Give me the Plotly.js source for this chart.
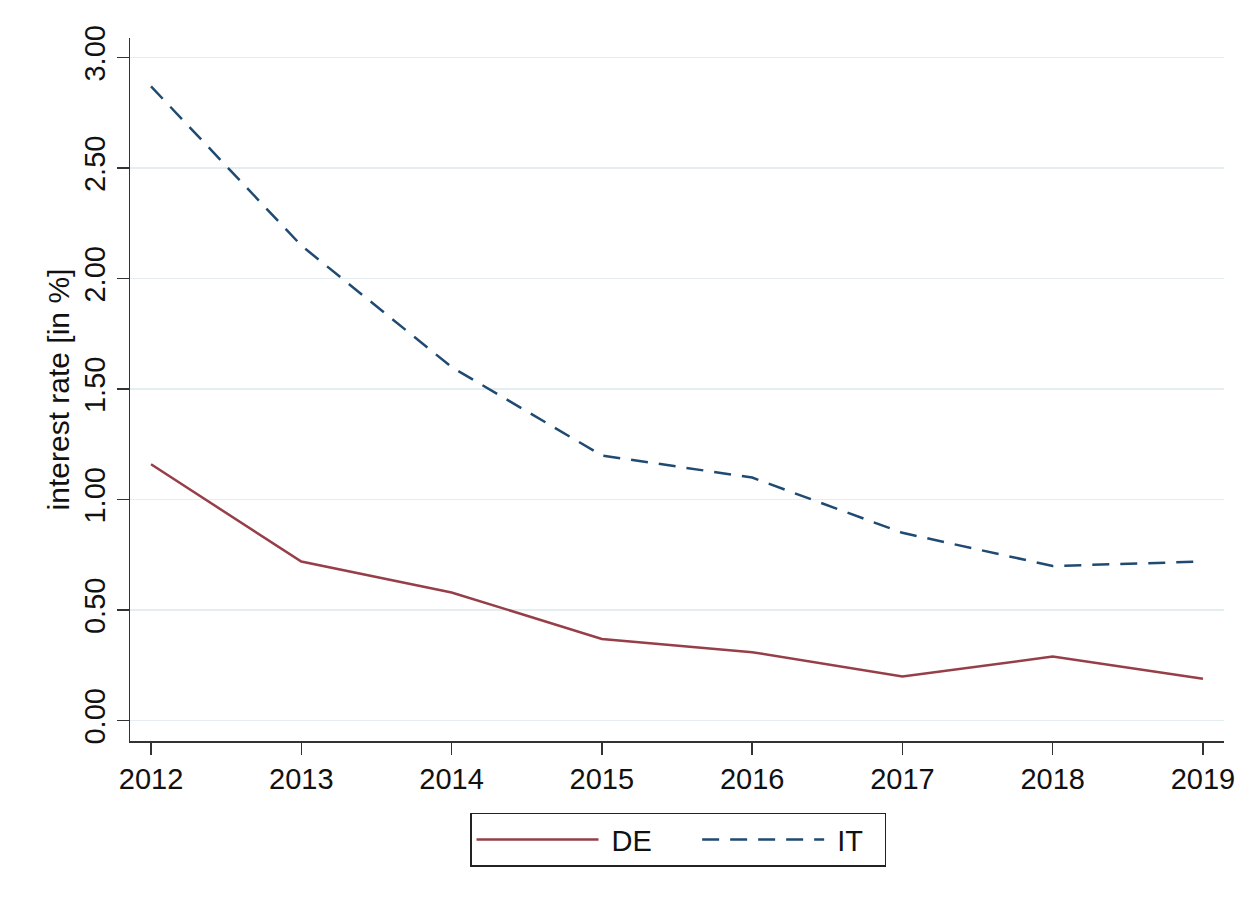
<!DOCTYPE html>
<html>
<head>
<meta charset="utf-8">
<script src="https://cdn.plot.ly/plotly-3.0.1.min.js"></script>
<style>html,body{margin:0;padding:0;background:#fff;}#chart{width:1253px;height:909px;}</style>
</head>
<body>
<div id="chart"></div>
<script>
var years = [2012, 2013, 2014, 2015, 2016, 2017, 2018, 2019];
var deRates = [1.16, 0.72, 0.58, 0.37, 0.31, 0.20, 0.29, 0.19];
var itRates = [2.87, 2.15, 1.60, 1.20, 1.10, 0.85, 0.70, 0.72];
var seriesNames = ["DE", "IT"];
var yTicks = [0, 0.5, 1, 1.5, 2, 2.5, 3];
var yTickLabels = ["0.00", "0.50", "1.00", "1.50", "2.00", "2.50", "3.00"];

var font = "Liberation Sans, Arial, sans-serif";
var sp = "\u00a0";
var traces = [
  {x: years, y: deRates, name: sp + seriesNames[0] + sp.repeat(5), type: "scatter", mode: "lines",
   line: {color: "#963f48", width: 2.5}},
  {x: years, y: itRates, name: sp + seriesNames[1] + sp.repeat(2), type: "scatter", mode: "lines",
   line: {color: "#1f4a72", width: 2.5, dash: "17px,11px"}}
];
var layout = {
  width: 1253, height: 909,
  paper_bgcolor: "#ffffff", plot_bgcolor: "#ffffff",
  margin: {l: 130, r: 29, t: 38, b: 168},
  font: {family: font, color: "#111", size: 29},
  showlegend: true,
  legend: {
    orientation: "h", x: 0.3108, xanchor: "left", y: -0.102, yanchor: "top",
    bordercolor: "#222", borderwidth: 1.5, bgcolor: "#fff",
    font: {family: font, size: 29, color: "#111"},
    itemwidth: 122, tracegroupgap: 0
  },
  xaxis: {
    range: [2011.86, 2019.14],
    tickvals: years, ticktext: years.map(String),
    showgrid: false, zeroline: false,
    showline: true, linecolor: "#333", linewidth: 1.5,
    ticks: "outside", ticklen: 12, tickwidth: 1.5, tickcolor: "#333",
    tickfont: {family: font, size: 29, color: "#111"}
  },
  yaxis: {
    range: [-0.092, 3.089],
    tickvals: yTicks, ticktext: yTickLabels, tickangle: -90,
    showgrid: true, gridcolor: "#e4eef1", gridwidth: 1.5,
    zeroline: false,
    showline: true, linecolor: "#333", linewidth: 1.5,
    ticks: "outside", ticklen: 12, tickwidth: 1.5, tickcolor: "#333",
    tickfont: {family: font, size: 29, color: "#111"},
    title: {text: "interest rate [in %]", font: {family: font, size: 30, color: "#111"}, standoff: 0}
  }
};
Plotly.newPlot("chart", traces, layout, {displayModeBar: false, staticPlot: true});
</script>
</body>
</html>
